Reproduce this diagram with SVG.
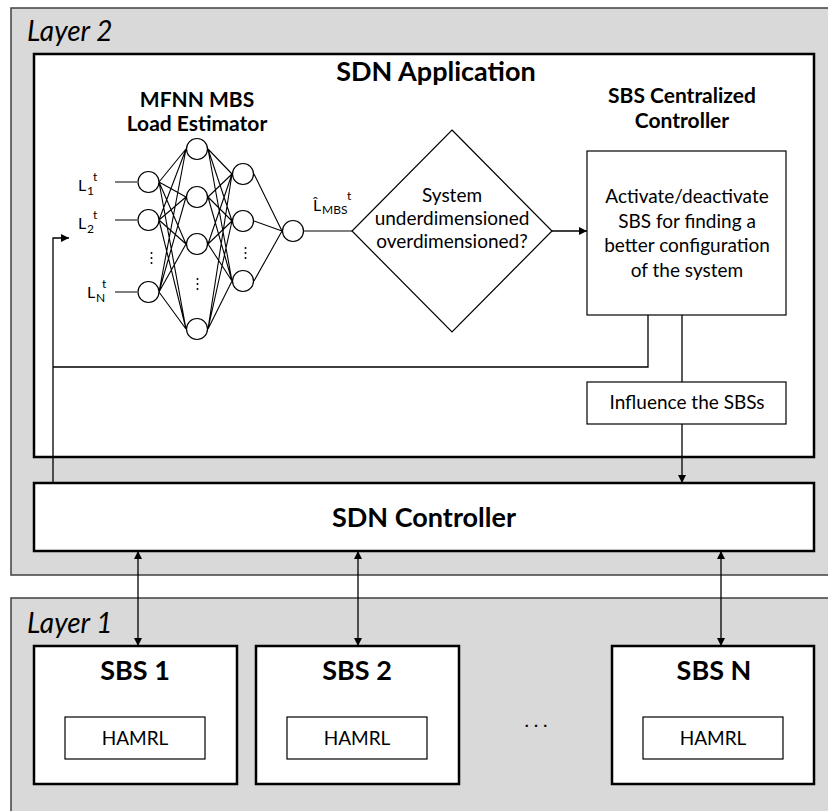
<svg xmlns="http://www.w3.org/2000/svg" width="828" height="811" viewBox="0 0 828 811">
<style>
text{font-family:Lato,"Liberation Sans",sans-serif;fill:#000}
.layer{fill:#d9d9d9;stroke:#404040;stroke-width:1.5}
.lbl{font-style:italic;font-size:28px}
.big{fill:#fff;stroke:#000;stroke-width:2.5}
.box{fill:#fff;stroke:#000;stroke-width:1.2}
.t1{font-weight:bold;font-size:27px;text-anchor:middle}
.t2{font-weight:bold;font-size:21px;text-anchor:middle}
.r{font-size:19px;text-anchor:middle}
.n{fill:#fff;stroke:#000;stroke-width:1.2}
.w{stroke:#000;stroke-width:1.1;fill:none}
.c{stroke:#000;stroke-width:1.3;fill:none}
.L{font-size:16px}
.s{font-size:12px}
</style>
<defs>
<marker id="ah" viewBox="0 0 10 10" refX="10" refY="5" markerWidth="8" markerHeight="8" markerUnits="userSpaceOnUse" orient="auto-start-reverse">
<path d="M0,0 L10,5 L0,10 z" fill="#000"/>
</marker>
</defs>

<g id="layer2">
<rect class="layer" x="11" y="8" width="830" height="567"/>
<text class="lbl" x="27" y="41">Layer 2</text>
</g>
<g id="layer1">
<rect class="layer" x="11" y="598" width="830" height="230"/>
<text class="lbl" x="27" y="633">Layer 1</text>
</g>

<g id="sdn-application">
<rect class="big" x="34" y="54" width="780" height="403"/>
<text class="t1" x="436" y="81">SDN Application</text>
</g>

<g id="mfnn">
<text class="t2" x="197" y="107">MFNN MBS</text>
<text class="t2" x="197" y="131">Load Estimator</text>
<g id="nn-edges" class="w">
<path d="M159,182L186,149M159,182L186,197M159,182L186,244M159,182L186,329
M159,220L186,149M159,220L186,197M159,220L186,244M159,220L186,329
M159,292L186,149M159,292L186,197M159,292L186,244M159,292L186,329
M208,149L232,174M208,149L232,221M208,149L232,281
M208,197L232,174M208,197L232,221M208,197L232,281
M208,244L232,174M208,244L232,221M208,244L232,281
M208,329L232,174M208,329L232,221M208,329L232,281
M254,174L282,231M254,221L282,231M254,281L282,231"/>
<path d="M115,182H137M115,220H137M115,292H137M304,231H352"/>
</g>
<g id="nn-nodes">
<circle class="n" cx="148.5" cy="182" r="10.5"/>
<circle class="n" cx="148.5" cy="220" r="10.5"/>
<circle class="n" cx="148.5" cy="292" r="10.5"/>
<circle class="n" cx="197" cy="149" r="10.5"/>
<circle class="n" cx="197" cy="197" r="10.5"/>
<circle class="n" cx="197" cy="244" r="10.5"/>
<circle class="n" cx="197" cy="329" r="10.5"/>
<circle class="n" cx="243" cy="174" r="10.5"/>
<circle class="n" cx="243" cy="221" r="10.5"/>
<circle class="n" cx="243" cy="281" r="10.5"/>
<circle class="n" cx="293" cy="231" r="10.5"/>
</g>
<g id="nn-dots" fill="#000">
<circle cx="151.5" cy="253" r="1"/><circle cx="151.5" cy="258" r="1"/><circle cx="151.5" cy="263" r="1"/>
<circle cx="197.5" cy="279" r="1"/><circle cx="197.5" cy="284" r="1"/><circle cx="197.5" cy="289" r="1"/>
<circle cx="245.5" cy="248" r="1"/><circle cx="245.5" cy="253" r="1"/><circle cx="245.5" cy="258" r="1"/>
</g>
<text class="L" x="78" y="191">L<tspan class="s" x="87" y="195">1</tspan><tspan class="s" x="93" y="181">t</tspan></text>
<text class="L" x="78" y="229">L<tspan class="s" x="87" y="233">2</tspan><tspan class="s" x="93" y="219">t</tspan></text>
<text class="L" x="87" y="298">L<tspan class="s" x="96" y="302">N</tspan><tspan class="s" x="102" y="288">t</tspan></text>
<text class="L" x="313" y="211">L̂<tspan class="s" x="322" y="214">MBS</tspan><tspan class="s" x="347" y="200">t</tspan></text>
</g>

<g id="decision">
<polygon points="452,130 552,231 452,332 352,231" fill="#fff" stroke="#000" stroke-width="1.2"/>
<text class="r" x="452" y="202">System</text>
<text class="r" x="452" y="225">underdimensioned</text>
<text class="r" x="452" y="248">overdimensioned?</text>
</g>

<g id="sbs-centralized-controller">
<text class="t2" x="682" y="103">SBS Centralized</text>
<text class="t2" x="682" y="128">Controller</text>
<rect class="box" x="587" y="151" width="199" height="164"/>
<text class="r" x="687" y="203">Activate/deactivate</text>
<text class="r" x="687" y="228">SBS for finding a</text>
<text class="r" x="687" y="252">better configuration</text>
<text class="r" x="687" y="277">of the system</text>
</g>

<g id="influence">
<rect class="box" x="587" y="382" width="199" height="42"/>
<text class="r" x="687" y="409">Influence the SBSs</text>
</g>

<g id="sdn-controller">
<rect class="big" x="34" y="483" width="780" height="68"/>
<text class="t1" x="424" y="527">SDN Controller</text>
</g>

<g id="sbs1">
<rect class="big" x="34" y="646" width="203" height="138"/>
<text class="t1" x="135" y="680">SBS 1</text>
<rect class="box" x="65" y="717" width="140" height="42"/>
<text class="r" x="135" y="745">HAMRL</text>
</g>
<g id="sbs2">
<rect class="big" x="256" y="646" width="203" height="138"/>
<text class="t1" x="357" y="680">SBS 2</text>
<rect class="box" x="287" y="717" width="140" height="42"/>
<text class="r" x="357" y="745">HAMRL</text>
</g>
<g id="sbsn">
<rect class="big" x="612" y="646" width="202" height="138"/>
<text class="t1" x="714" y="680">SBS N</text>
<rect class="box" x="643" y="717" width="140" height="42"/>
<text class="r" x="713" y="745">HAMRL</text>
</g>
<text class="r" x="536" y="727">. . .</text>

<g id="connectors" class="c">
<path d="M552,231H587" marker-end="url(#ah)"/>
<path d="M648,315V367H53"/>
<path d="M53,483V238H69" marker-end="url(#ah)"/>
<path d="M682,315V382"/>
<path d="M682,424V483" marker-end="url(#ah)"/>
<path d="M138,551V646" marker-start="url(#ah)" marker-end="url(#ah)"/>
<path d="M358,551V646" marker-start="url(#ah)" marker-end="url(#ah)"/>
<path d="M721,551V646" marker-start="url(#ah)" marker-end="url(#ah)"/>
</g>
</svg>
